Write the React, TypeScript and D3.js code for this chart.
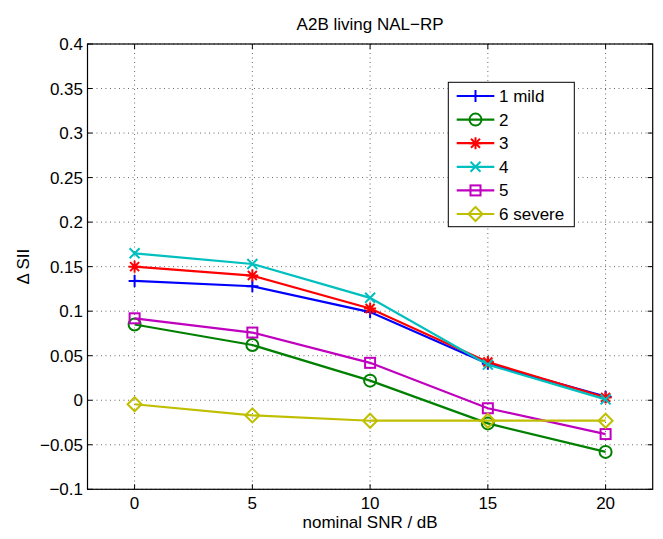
import React from "react";
import * as d3 from "d3";

const snr = [0, 5, 10, 15, 20];
const seriesNames = ["1 mild", "2", "3", "4", "5", "6 severe"];
const s1 = [0.134, 0.128, 0.099, 0.041, 0.004];
const s2 = [0.085, 0.062, 0.022, -0.026, -0.058];
const s3 = [0.15, 0.14, 0.103, 0.043, 0.003];
const s4 = [0.165, 0.153, 0.115, 0.04, 0.001];
const s5 = [0.092, 0.076, 0.042, -0.009, -0.038];
const s6 = [-0.0045, -0.017, -0.023, -0.023, -0.023];
const seriesColors = ["#0000ff", "#008000", "#ff0000", "#00bfbf", "#bf00bf", "#bfbf00"];
const seriesMarkers = ["plus", "circle", "star", "cross", "square", "diamond"];
const yTicks = [-0.1, -0.05, 0, 0.05, 0.1, 0.15, 0.2, 0.25, 0.3, 0.35, 0.4];
const xTicks = [0, 5, 10, 15, 20];

const W = 663;
const H = 539;
const m = { left: 87.5, right: 652.7, top: 44, bottom: 489.3 };
const font = "'Liberation Sans', Arial, sans-serif";
const fs = 17;

const Marker = ({ type, x, y, color }: { type: string; x: number; y: number; color: string }) => {
  const sw = 2;
  if (type === "plus")
    return <path d={`M${x - 6},${y}H${x + 6}M${x},${y - 6}V${y + 6}`} stroke={color} strokeWidth={sw} fill="none" />;
  if (type === "circle") return <circle cx={x} cy={y} r={6} stroke={color} strokeWidth={sw} fill="none" />;
  if (type === "cross")
    return <path d={`M${x - 5},${y - 5}L${x + 5},${y + 5}M${x - 5},${y + 5}L${x + 5},${y - 5}`} stroke={color} strokeWidth={sw} fill="none" />;
  if (type === "star")
    return (
      <path
        d={`M${x - 6},${y}H${x + 6}M${x},${y - 6}V${y + 6}M${x - 4.5},${y - 4.5}L${x + 4.5},${y + 4.5}M${x - 4.5},${y + 4.5}L${x + 4.5},${y - 4.5}`}
        stroke={color}
        strokeWidth={sw}
        fill="none"
      />
    );
  if (type === "square") return <rect x={x - 5} y={y - 5} width={10} height={10} stroke={color} strokeWidth={sw} fill="none" />;
  return <path d={`M${x},${y - 7}L${x + 7},${y}L${x},${y + 7}L${x - 7},${y}Z`} stroke={color} strokeWidth={sw} fill="none" />;
};

export default function App() {
  const x = d3.scaleLinear().domain([-2, 22]).range([m.left, m.right]);
  const y = d3.scaleLinear().domain([-0.1, 0.4]).range([m.bottom, m.top]);
  const allSeries = [s1, s2, s3, s4, s5, s6];
  const line = d3
    .line<number>()
    .x((_, i) => x(snr[i]))
    .y((d) => y(d));

  const legX = 448.3;
  const legY = 82.3;
  const legW = 126;
  const legH = 144.4;

  return (
    <svg width={W} height={H} style={{ position: "absolute", left: 0, top: 0, background: "#fff" }} fontFamily={font}>
      <rect x={0} y={0} width={W} height={H} fill="#fff" />
      {/* grid */}
      {xTicks.map((t) => (
        <line key={"gx" + t} x1={x(t)} x2={x(t)} y1={m.top} y2={m.bottom} stroke="#000" strokeWidth={0.6} strokeDasharray="1,3.5" />
      ))}
      {yTicks.map((t) => (
        <line key={"gy" + t} x1={m.left} x2={m.right} y1={y(t)} y2={y(t)} stroke="#000" strokeWidth={0.6} strokeDasharray="1,3.5" />
      ))}
      {/* ticks */}
      {xTicks.map((t) => (
        <g key={"tx" + t}>
          <line x1={x(t)} x2={x(t)} y1={m.bottom} y2={m.bottom - 5} stroke="#000" />
          <line x1={x(t)} x2={x(t)} y1={m.top} y2={m.top + 5} stroke="#000" />
          <text x={x(t)} y={509} textAnchor="middle" fontSize={fs}>
            {t}
          </text>
        </g>
      ))}
      {yTicks.map((t) => (
        <g key={"ty" + t}>
          <line x1={m.left} x2={m.left + 5} y1={y(t)} y2={y(t)} stroke="#000" />
          <line x1={m.right} x2={m.right - 5} y1={y(t)} y2={y(t)} stroke="#000" />
          <text x={m.left - 4.5} y={y(t) + 6} textAnchor="end" fontSize={fs}>
            {t === 0 ? "0" : d3.format("")(t).replace("-", "\u2212")}
          </text>
        </g>
      ))}
      <rect x={m.left} y={m.top} width={m.right - m.left} height={m.bottom - m.top} fill="none" stroke="#000" strokeWidth={1.2} />
      {/* series */}
      {allSeries.map((s, i) => (
        <g key={"s" + i}>
          <path d={line(s) || ""} fill="none" stroke={seriesColors[i]} strokeWidth={2.2} />
          {s.map((v, j) => (
            <Marker key={j} type={seriesMarkers[i]} x={x(snr[j])} y={y(v)} color={seriesColors[i]} />
          ))}
        </g>
      ))}
      {/* legend */}
      <rect x={legX} y={legY} width={legW} height={legH} fill="#fff" stroke="#000" strokeWidth={1} />
      {seriesNames.map((n, i) => {
        const ly = 96 + i * 23.6;
        return (
          <g key={"l" + i}>
            <line x1={456.7} x2={494.3} y1={ly} y2={ly} stroke={seriesColors[i]} strokeWidth={2.2} />
            <Marker type={seriesMarkers[i]} x={475.5} y={ly} color={seriesColors[i]} />
            <text x={499} y={ly + 6} fontSize={fs}>
              {n}
            </text>
          </g>
        );
      })}
      {/* labels */}
      <text x={(m.left + m.right) / 2} y={30} textAnchor="middle" fontSize={fs}>
        A2B living NAL{"\u2212"}RP
      </text>
      <text x={(m.left + m.right) / 2} y={528} textAnchor="middle" fontSize={fs}>
        nominal SNR / dB
      </text>
      <text transform={`translate(29,${(m.top + m.bottom) / 2}) rotate(-90)`} textAnchor="middle" fontSize={fs}>
        {"\u0394"} SII
      </text>
    </svg>
  );
}
